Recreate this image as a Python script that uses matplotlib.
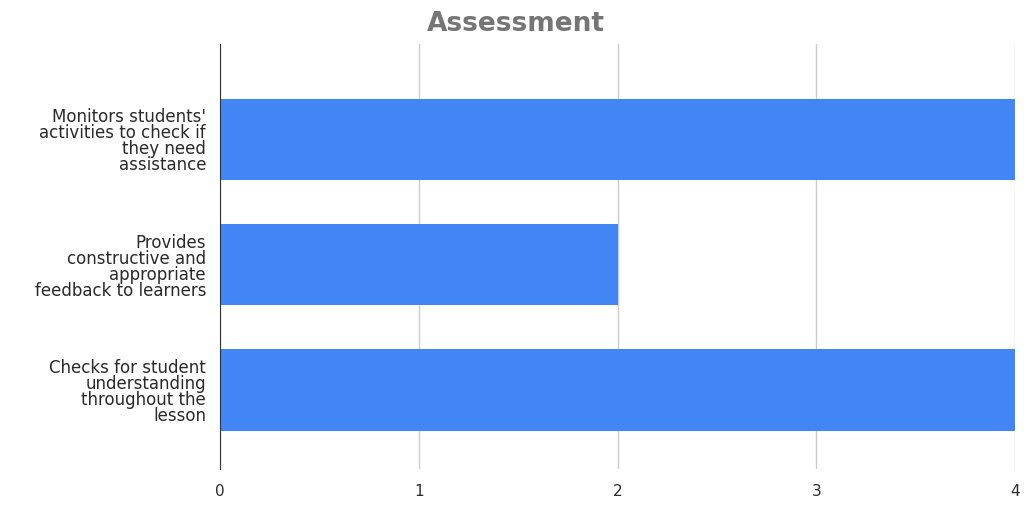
import matplotlib
matplotlib.use('Agg')
import matplotlib.pyplot as plt

plt.rcParams['font.family'] = ['DejaVu Sans']

categories = [
    "Monitors students'\nactivities to check if\nthey need\nassistance",
    "Provides\nconstructive and\nappropriate\nfeedback to learners",
    "Checks for student\nunderstanding\nthroughout the\nlesson",
]
values = [4, 2, 4]
x_ticks = [0, 1, 2, 3, 4]

fig = plt.figure(figsize=(10.26, 5.06), dpi=100)
ax = fig.add_axes([0.2144, 0.071, 0.775, 0.84])

ax.barh(range(len(categories)), values, height=0.65, color='#4285f4', zorder=3)
ax.set_ylim(2.63, -0.76)
ax.set_xlim(0, 4)
ax.set_xticks(x_ticks)
ax.set_xticklabels([str(t) for t in x_ticks])
ax.set_yticks(range(len(categories)))
ax.set_yticklabels(categories, fontsize=12, color='#2a2a2a', linespacing=0.85)

ax.grid(axis='x', color='#cccccc', lw=1, zorder=0)
for side in ['top', 'right', 'bottom']:
    ax.spines[side].set_visible(False)
ax.spines['left'].set_color('#333333')
ax.spines['left'].set_zorder(4)
ax.tick_params(axis='both', length=0)
ax.tick_params(axis='x', pad=10, labelsize=11, labelcolor='#2a2a2a')
ax.tick_params(axis='y', pad=10)

fig.suptitle('Assessment', x=0.503, y=0.978, fontsize=19, fontweight='bold',
             color='#757575')

fig.savefig('out.png', dpi=100, facecolor='white')
